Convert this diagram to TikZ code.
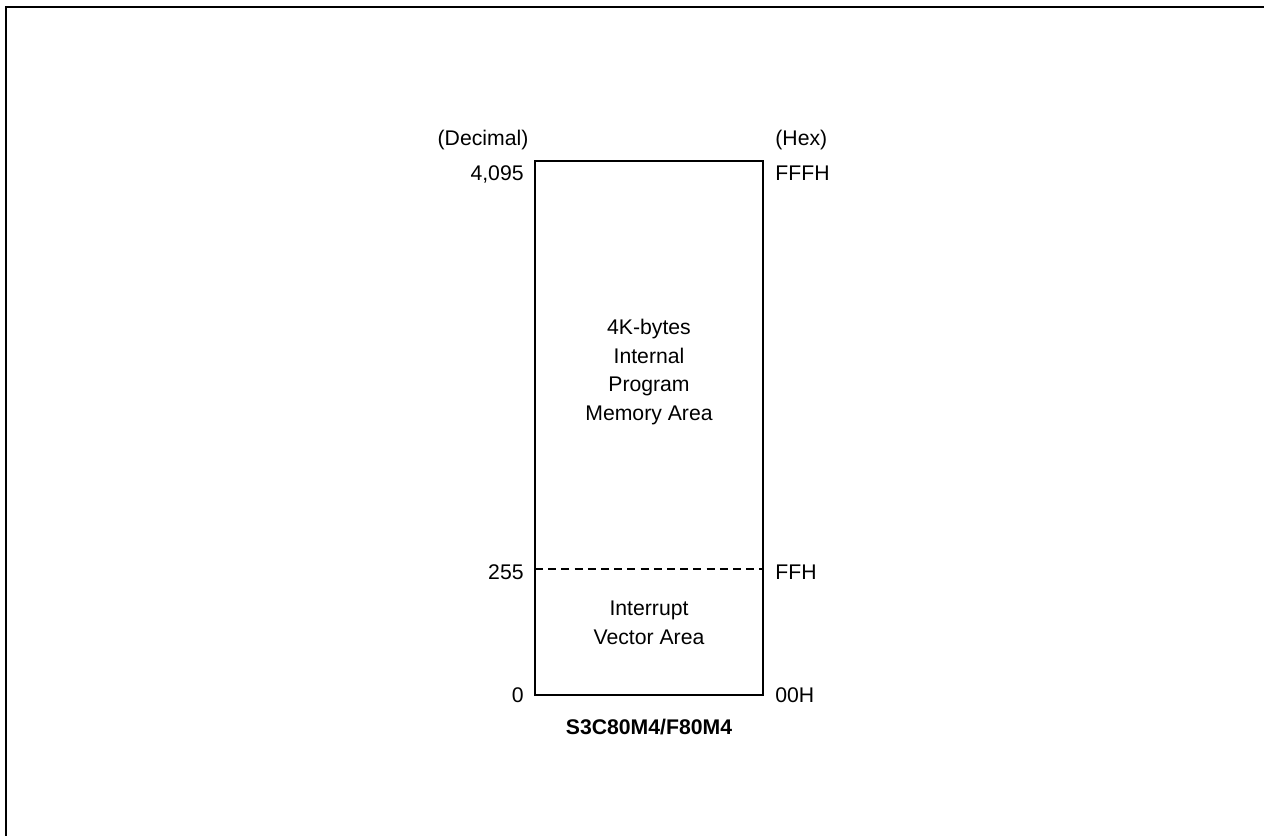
\documentclass[tikz,border=0pt]{standalone}
\usepackage{fontspec}
\setmainfont{Liberation Sans}
\begin{document}
\begin{tikzpicture}[x=0.5pt,y=-0.5pt,
  lbl/.style={font=\fontsize{10.6pt}{14.2pt}\selectfont, inner sep=0pt},
  frameline/.style={line width=1pt},
  boxline/.style={line width=0.55pt}]
\useasboundingbox (0,0) rectangle (1264,836);
% outer frame (top and left only)
\coordinate (fTL) at (6,7);
\coordinate (fTR) at (1264,7);
\coordinate (fBL) at (6,836);
\draw[frameline] (fTR) -- (fTL) -- (fBL);
% memory box
\coordinate (bTL) at (535,161);
\coordinate (bBR) at (763,695);
\coordinate (dL) at (535,569);
\coordinate (dR) at (763,569);
\draw[boxline] (bTL) rectangle (bBR);
\draw[boxline, dash pattern=on 4pt off 2.6pt] (dL) -- (dR);
% column headers
\node[lbl, anchor=base] (dec) at (483,145) {(Decimal)};
\node[lbl, anchor=base west] (hex) at (775,145) {(Hex)};
% left addresses
\node[lbl, anchor=base east] (d4095) at (524,180) {4,095};
\node[lbl, anchor=base east] (d255) at (524,579) {255};
\node[lbl, anchor=base east] (d0) at (524,702) {0};
% right addresses
\node[lbl, anchor=base west] (hFFF) at (775,180) {FFFH};
\node[lbl, anchor=base west] (hFF) at (775,579) {FFH};
\node[lbl, anchor=base west] (h00) at (775,702) {00H};
% area labels (base anchor = last line)
\node[lbl, anchor=base, align=center] (prog) at (649,420) {4K-bytes\\Internal\\Program\\Memory Area};
\node[lbl, anchor=base, align=center] (intv) at (649,644) {Interrupt\\Vector Area};
% caption
\node[lbl, anchor=base, font=\fontsize{10.6pt}{14.2pt}\selectfont\bfseries] (cap) at (649,734) {S3C80M4/F80M4};
\end{tikzpicture}
\end{document}
